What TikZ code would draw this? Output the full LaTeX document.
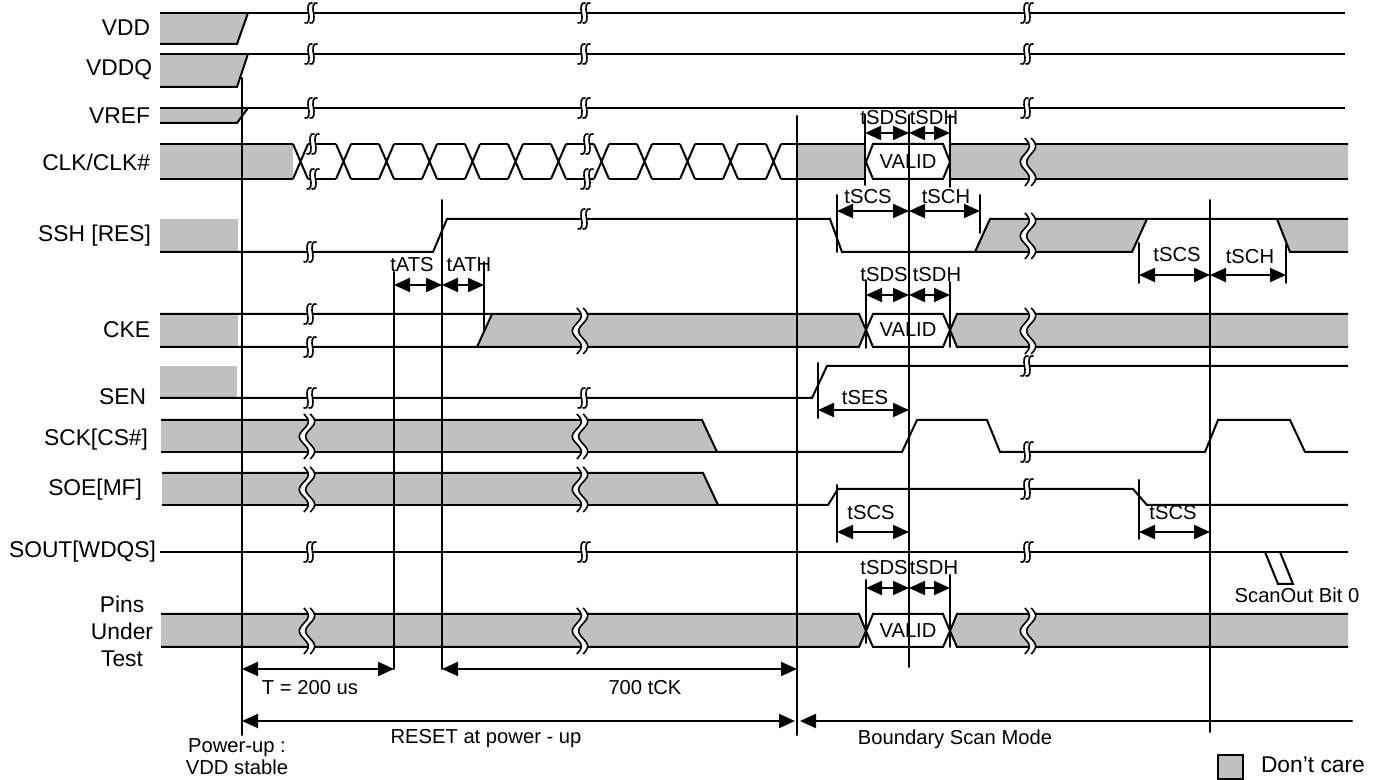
\documentclass[tikz,border=0pt]{standalone}
\usepackage{fontspec}
\usepackage{tkz-euclide}
\usetikzlibrary{arrows.meta}
\setmainfont{Liberation Sans}
\definecolor{dcgrey}{HTML}{C0C0C0}
\tikzset{>={Triangle[length=8pt,width=7pt]}}
\tikzset{sig/.style={anchor=east,inner sep=0pt,font=\fontsize{11.4}{13.5}\selectfont},
    big/.style={inner sep=0pt,font=\fontsize{11.4}{13.5}\selectfont},
    tlab/.style={inner sep=0pt,font=\fontsize{10.1}{11}\selectfont},
    dc/.style={fill=dcgrey,draw=none}}
\newcommand{\sbrk}[2]{%
    \begin{scope}[shift={(#1,#2)}]
        \fill[white] (-2,-3) rectangle (2,3);
        \foreach \d in {-2.5,2.5}
            \draw[line width=0.8pt] (\d+4,-10) .. controls (\d-1,-12) and (\d-1,-4) .. (\d,0) .. controls (\d+1,4) and (\d+1,12) .. (\d-4,10);
    \end{scope}}
\newcommand{\wbrk}[3]{%
    \begin{scope}[shift={(#1,#2-6)}]
        \pgfmathsetmacro{\wh}{#3-#2+13}
        \draw[white,line width=2.4pt] plot[domain=0:1,samples=25,smooth] ({4.5*sin(540*\x)},{\wh*\x});
        \foreach \d in {-1.6pt,1.6pt}
            \draw[line width=0.8pt,xshift=\d] plot[domain=0:1,samples=25,smooth] ({4.5*sin(540*\x)},{\wh*\x});
    \end{scope}}

\begin{document}
\begin{tikzpicture}[x=0.5pt,y=-0.5pt,line width=1pt]
    \useasboundingbox (0,0) rectangle (1378,780);
    \foreach \t/\b in {13/44, 54/87, 108/123} {
        \fill[dc] (160,\t) -- (248,\t) -- (237,\b) -- (160,\b) -- cycle;
        \draw (160,\b) -- (237,\b) -- (248,\t);
        \draw (160,\t) -- (1345,\t);
        \sbrk{311}{\t} \sbrk{584}{\t} \sbrk{1027}{\t}
    }
    \fill[dc] (160,144) rectangle (293,179);
    \fill[dc] (797,144) rectangle (865,179);
    \fill[dc] (950,144) rectangle (1348,179);
    \draw (160,144) -- (293,144) (160,179) -- (293,179);
    \foreach \k in {0,...,11} {
        \pgfmathsetmacro{\cx}{300.5+43*\k}
        \draw (\cx-7.5,144) -- (\cx+7.5,179) (\cx-7.5,179) -- (\cx+7.5,144);
    }
    \foreach \k in {0,...,10} {
        \pgfmathsetmacro{\cx}{300.5+43*\k}
        \draw (\cx+7.5,144) -- (\cx+35.5,144) (\cx+7.5,179) -- (\cx+35.5,179);
    }
    \draw (781,144) -- (865,144) (781,179) -- (865,179);
    \draw (950,144) -- (1348,144) (950,179) -- (1348,179);
    \sbrk{313}{144} \sbrk{313}{179} \sbrk{587}{144} \sbrk{587}{179}
    \wbrk{1028}{144}{179}

    \fill[dc] (160,219) rectangle (238,252);
    \fill[dc] (975,252) -- (990,219) -- (1147,219) -- (1132,252) -- cycle;
    \fill[dc] (1277,219) -- (1348,219) -- (1348,252) -- (1290,252) -- cycle;
    \draw (160,252) -- (433,252) -- (447,219) -- (830,219) -- (842,252) -- (975,252) -- (990,219) -- (1348,219);
    \draw (975,252) -- (1132,252) -- (1147,219);
    \draw (1277,219) -- (1290,252) -- (1348,252);
    \sbrk{310}{252} \sbrk{584}{219} \wbrk{1028}{219}{252}

    \fill[dc] (160,314) rectangle (238,347);
    \fill[dc] (477,347) -- (492,314) -- (859,314) -- (866,330) -- (859,347) -- cycle;
    \fill[dc] (950,330) -- (957,314) -- (1348,314) -- (1348,347) -- (957,347) -- cycle;
    \draw (160,314) -- (859,314) -- (866,330) -- (859,347) -- (160,347);
    \draw (477,347) -- (492,314);
    \draw (950,330) -- (957,314) -- (1348,314) (950,330) -- (957,347) -- (1348,347);
    \sbrk{310}{314} \sbrk{310}{347} \wbrk{580}{314}{347} \wbrk{1028}{314}{347}

    \fill[dc] (160,366) rectangle (237,398);
    \draw (160,398) -- (812,398) -- (827,366) -- (1348,366);
    \sbrk{310}{398} \sbrk{584}{398} \sbrk{1027}{366}

    \fill[dc] (161,420) -- (702,420) -- (717,452) -- (161,452) -- cycle;
    \draw (161,420) -- (702,420) -- (717,452) -- (902,452) -- (917,420) -- (987,420) -- (1000,452) -- (1205,452) -- (1218,420) -- (1290,420) -- (1305,452) -- (1348,452);
    \draw (161,452) -- (717,452);
    \wbrk{307}{420}{452} \wbrk{580}{420}{452} \sbrk{1027}{452}

    \fill[dc] (162,473) -- (703,473) -- (718,505) -- (162,505) -- cycle;
    \draw (162,473) -- (703,473) -- (718,505) -- (828,505) -- (838,489) -- (1133,489) -- (1147,505) -- (1348,505);
    \draw (162,505) -- (718,505);
    \wbrk{307}{473}{505} \wbrk{580}{473}{505} \sbrk{1027}{489}

    \draw (160,552) -- (1348,552);
    \sbrk{310}{552} \sbrk{584}{552} \sbrk{1027}{552}
    \draw (1265,552) -- (1278,584) -- (1293,584) -- (1280,552);

    \fill[dc] (161,614) -- (859,614) -- (866,631) -- (859,647) -- (161,647) -- cycle;
    \fill[dc] (950,631) -- (957,614) -- (1348,614) -- (1348,647) -- (957,647) -- cycle;
    \draw (161,614) -- (859,614) -- (866,631) -- (859,647) -- (161,647);
    \draw (950,631) -- (957,614) -- (1348,614) (950,631) -- (957,647) -- (1348,647);
    \wbrk{307}{614}{647} \wbrk{580}{614}{647} \wbrk{1028}{614}{647}

    \foreach \t/\m/\b/\n in {144/162/179/vclk, 314/330/347/vcke, 614/631/647/vpin} {
        \draw (866,\m) -- (873,\t) -- (943,\t) -- (950,\m) -- (943,\b) -- (873,\b) -- cycle;
        \node[tlab] (\n) at (908,\m) {VALID};
    }

    \tkzDefPoints{242/78/P1, 242/735/P2, 394/272/S1, 394/669/S2, 442/200/H1, 442/669/H2, 484/262/K1, 484/331/K2, 797/116/R1, 797/735/R2, 909/115/M1, 909/667/M2, 1210/200/N1, 1210/732/N2}
    \tkzDrawSegments[line width=1pt](P1,P2 S1,S2 H1,H2 K1,K2 R1,R2 M1,M2 N1,N2)
    \tkzDefPoints{865/115/a1, 865/185/a2, 950/115/b1, 950/187/b2, 837/195/c1, 837/252/c2, 980/195/d1, 980/233/d2, 866/280/e1, 866/348/e2, 950/282/f1, 950/347/f2, 1139/243/g1, 1139/283/g2, 1286/245/h1, 1286/283/h2, 818/363/i1, 818/418/i2, 837/485/j1, 837/542/j2, 1139/480/k1, 1139/539/k2, 866/580/l1, 866/643/l2, 950/575/m1, 950/647/m2}
    \tkzDrawSegments[line width=1pt](a1,a2 b1,b2 c1,c2 d1,d2 e1,e2 f1,f2 g1,g2 h1,h2 i1,i2 j1,j2 k1,k2 l1,l2 m1,m2)

    \tkzDefPoints{865/133/ca, 909/133/cb, 950/133/cc, 837/211/sa, 909/211/sb, 980/211/sc, 866/295/ka, 909/295/kb, 950/295/kc, 394/285/ta, 442/285/tb, 484/285/tc, 1139/275/ra, 1210/275/rb, 1286/275/rc, 818/410/ea, 909/410/eb, 837/532/oa, 909/532/ob, 1139/532/oc, 1210/532/od, 866/588/pa, 909/588/pb, 950/588/pc}
    \tkzDrawSegments[line width=1pt,<->](ca,cb cb,cc sa,sb sb,sc ka,kb kb,kc ta,tb tb,tc ra,rb rb,rc ea,eb oa,ob oc,od pa,pb pb,pc)
    \tkzDefPoints{242/669/ua, 394/669/ub, 442/669/uc, 797/669/ud, 242/721/va, 795/721/vb, 800/721/vd, 1352/721/vc}
    \tkzDrawSegments[line width=1pt,<->](ua,ub uc,ud va,vb)
    \tkzDrawSegment[line width=1pt,<-](vd,vc)

    \node[sig] (vdd) at (151,28) {VDD};
    \node[sig] (vddq) at (153,70) {VDDQ};
    \node[sig] (vref) at (151,116) {VREF};
    \node[sig] (clk) at (151,162) {CLK/CLK\#};
    \node[sig] (ssh) at (152,236) {SSH [RES]};
    \node[sig] (cke) at (151,330) {CKE};
    \node[sig] (sen) at (147,397) {SEN};
    \node[sig] (sck) at (149,440) {SCK[CS\#]};
    \node[sig] (soe) at (143,490) {SOE[MF]};
    \node[sig] (sout) at (157,552) {SOUT[WDQS]};
    \node[big,align=center] (pins) at (122,631) {Pins\\Under\\Test};

    \node[tlab] (tsds1) at (884,118) {tSDS};
    \node[tlab] (tsdh1) at (934,118) {tSDH};
    \node[tlab] (tscs1) at (868,197) {tSCS};
    \node[tlab] (tsch1) at (946,197) {tSCH};
    \node[tlab] (tats) at (412,265) {tATS};
    \node[tlab] (tath) at (469,265) {tATH};
    \node[tlab] (tsds2) at (884,275) {tSDS};
    \node[tlab] (tsdh2) at (937,275) {tSDH};
    \node[tlab] (tscs2) at (1177,255) {tSCS};
    \node[tlab] (tsch2) at (1250,257) {tSCH};
    \node[tlab] (tses) at (865,398) {tSES};
    \node[tlab] (tscs3) at (871,513) {tSCS};
    \node[tlab] (tscs4) at (1173,513) {tSCS};
    \node[tlab] (tsds3) at (884,568) {tSDS};
    \node[tlab] (tsdh3) at (934,568) {tSDH};
    \node[tlab] (scanout) at (1297,595) {ScanOut Bit 0};
    \node[tlab] (t200) at (310,688) {T = 200 us};
    \node[tlab] (t700) at (645,688) {700 tCK};
    \node[tlab] (reset) at (486,739) {RESET at power - up};
    \node[tlab] (bscan) at (955,739) {Boundary Scan Mode};
    \node[tlab,align=center,font=\fontsize{10.1}{11}\selectfont] (pwrup) at (237,757) {Power-up :\\VDD stable};

    \filldraw[fill=dcgrey] (1218,755) rectangle (1243,779);
    \node[big,anchor=west] (dcare) at (1260,765) {Don’t care};
\end{tikzpicture}
\end{document}
